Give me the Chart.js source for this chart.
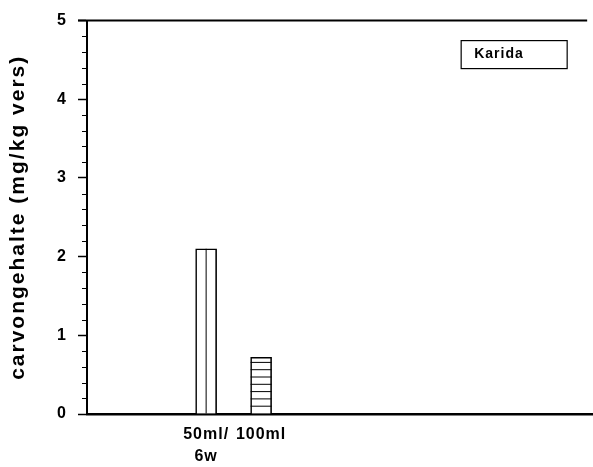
<!DOCTYPE html>
<html>
<head>
<meta charset="utf-8">
<script src="https://cdn.jsdelivr.net/npm/chart.js@4"></script>
<style>
  html, body { margin: 0; padding: 0; background: #fff; overflow: hidden; }
  /* plot runs off the right edge of the picture, as in the scan */
  #wrap { width: 601px; height: 467px; }
</style>
</head>
<body>
<div id="wrap"><canvas id="chart"></canvas></div>
<script>
// data
const categories = ['50ml/|6w', '100ml'];
const carvon = [2.1, 0.72];
const hatches = ['vertical', 'horizontal'];
const seriesName = 'Karida';
const yTitle = 'carvongehalte (mg/kg vers)';

// the x axis has room for more treatments, only two have bars
const slotCount = 28;
const slots = [6, 9];

const labels = new Array(slotCount).fill('');
const values = new Array(slotCount).fill(null);
const hatchBySlot = new Array(slotCount).fill(null);
slots.forEach((s, i) => {
    labels[s] = categories[i].split('|');
    values[s] = carvon[i];
    hatchBySlot[s] = hatches[i];
});

const FONT = "'Liberation Sans', Arial, sans-serif";

const decor = {
    id: 'decor',
    beforeDraw: (chart) => {
        chart.ctx.letterSpacing = '1px';
    },
    afterDatasetsDraw: (chart) => {
        const ctx = chart.ctx;
        const meta = chart.getDatasetMeta(0);
        ctx.save();
        ctx.strokeStyle = '#000';
        ctx.lineWidth = 1;
        meta.data.forEach((bar, i) => {
            if (values[i] === null) return;
            const left = bar.x - bar.width / 2, right = bar.x + bar.width / 2;
            ctx.beginPath();
            if (hatchBySlot[i] === 'vertical') {
                ctx.moveTo(bar.x, bar.y);
                ctx.lineTo(bar.x, bar.base);
            } else {
                for (let y = bar.base - 7.3; y > bar.y + 1; y -= 7.3) {
                    ctx.moveTo(left, y);
                    ctx.lineTo(right, y);
                }
            }
            ctx.stroke();
        });
        ctx.restore();
    },
    afterDraw: (chart) => {
        const ctx = chart.ctx;
        const a = chart.chartArea;
        const y = chart.scales.y;
        ctx.save();
        ctx.strokeStyle = '#000';
        ctx.fillStyle = '#000';
        // minor ticks
        ctx.lineWidth = 1.2;
        ctx.beginPath();
        for (let v = 0; v <= 5.0001; v += 0.2) {
            if (Math.abs(v - Math.round(v)) < 0.01) continue;
            const py = Math.round(y.getPixelForValue(v)) + 0.5;
            ctx.moveTo(a.left - 5, py);
            ctx.lineTo(a.left + 1, py);
        }
        ctx.stroke();
        // top frame line
        ctx.lineWidth = 2;
        ctx.beginPath();
        ctx.moveTo(a.left - 9, a.top);
        ctx.lineTo(a.right - 13, a.top);
        ctx.stroke();
        // legend box
        ctx.lineWidth = 1.2;
        ctx.strokeRect(a.right - 139, a.top + 20, 106, 28);
        ctx.font = 'bold 14px ' + FONT;
        ctx.textBaseline = 'middle';
        ctx.letterSpacing = '1px';
        ctx.fillText(seriesName, a.right - 126, a.top + 34);
        // y axis title, widely spaced like the original
        ctx.translate(18.5, (a.top + a.bottom) / 2);
        ctx.rotate(-Math.PI / 2);
        ctx.font = 'bold 21px ' + FONT;
        ctx.textAlign = 'center';
        ctx.letterSpacing = '2px';
        ctx.fillText(yTitle, 0, 0);
        ctx.restore();
    }
};

new Chart(document.getElementById('chart'), {
    type: 'bar',
    data: {
        labels: labels,
        datasets: [{
            label: seriesName,
            data: values,
            backgroundColor: '#fff',
            borderColor: '#000',
            borderWidth: 1.6,
            barThickness: 21,
            skipNull: true
        }]
    },
    options: {
        responsive: true,
        maintainAspectRatio: false,
        animation: false,
        layout: { padding: { top: 20, right: 0, left: 0, bottom: 0 } },
        plugins: { legend: { display: false }, tooltip: { enabled: false } },
        scales: {
            x: {
                grid: { display: false, drawTicks: false },
                border: { color: '#000', width: 2.5 },
                ticks: {
                    color: '#000',
                    font: { family: FONT, size: 16, weight: 'bold', lineHeight: 1.35 },
                    padding: 10,
                    maxRotation: 0,
                    autoSkip: false
                },
                afterFit: (s) => { s.height = 53; }
            },
            y: {
                min: 0,
                max: 5,
                grid: { drawOnChartArea: false, drawTicks: true, tickLength: 9, tickColor: '#000', tickWidth: 1.5 },
                border: { color: '#000', width: 2 },
                ticks: {
                    stepSize: 1,
                    color: '#000',
                    font: { family: FONT, size: 16, weight: 'bold' },
                    padding: 11
                },
                afterFit: (s) => { s.width = 87; }
            }
        }
    },
    plugins: [decor]
});
</script>
</body>
</html>
